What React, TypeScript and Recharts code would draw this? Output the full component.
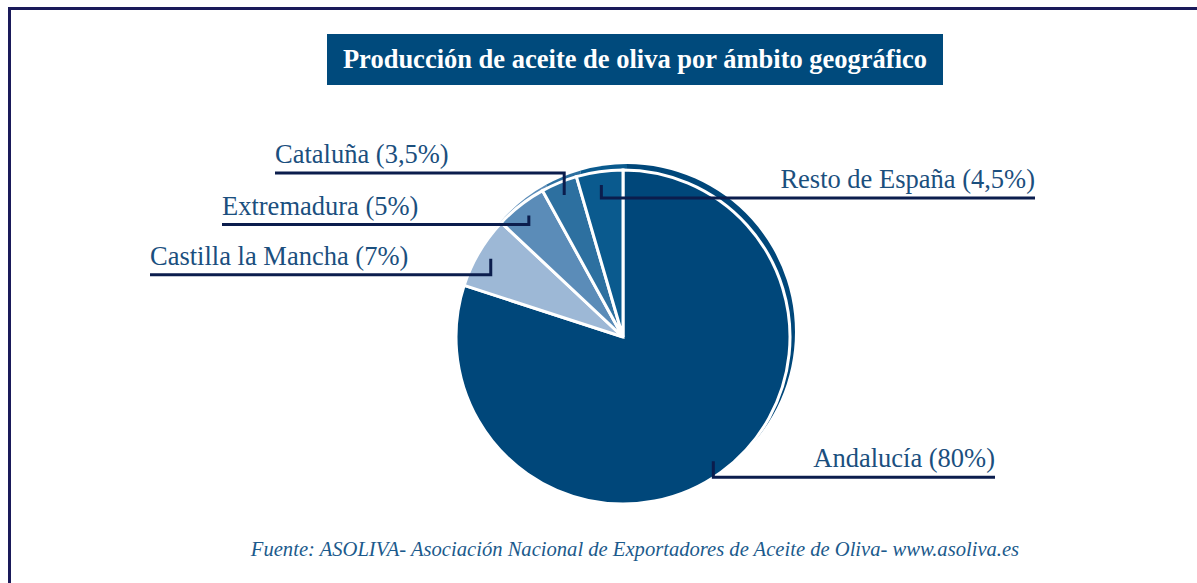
import { PieChart, Pie, Cell } from "recharts";

const regions = ["Andalucía", "Castilla la Mancha", "Extremadura", "Cataluña", "Resto de España"];
const shares = [80, 7, 5, 3.5, 4.5];
const shareLabels = ["80%", "7%", "5%", "3,5%", "4,5%"];
const colors = ["#00477a", "#9db8d6", "#5b8cb8", "#2d70a0", "#0a5a8e"];

// leader-line layout: tick length (down +, up -) and x where the horizontal line ends
const tickLen = [16, 16, 9, -22, 13];
const lineEndX = [995, 150, 222, 275, 1035];

const data = regions.map((name, i) => ({ name, value: shares[i], label: shareLabels[i] }));

const RAD = Math.PI / 180;
const serif = "'Liberation Serif', 'Times New Roman', serif";

function renderLabel(props: any) {
  const { cx, cy, midAngle, outerRadius, index } = props;
  const r = outerRadius * 0.92;
  const ax = cx + r * Math.cos(-midAngle * RAD);
  const ay = cy + r * Math.sin(-midAngle * RAD);
  const ly = ay + tickLen[index];
  const ex = lineEndX[index];
  const right = ex > ax;
  return (
    <g>
      <path d={`M${ax},${ay} L${ax},${ly} L${ex},${ly}`} fill="none" stroke="#0b1d4d" strokeWidth={3} />
      <text x={ex} y={ly - 10} textAnchor={right ? "end" : "start"} fill="#1b4f7e"
        style={{ fontFamily: serif, fontSize: 26.5 }}>
        {`${data[index].name} (${data[index].label})`}
      </text>
    </g>
  );
}

export default function App() {
  return (
    <div style={{ position: "absolute", left: 0, top: 0, width: 1197, height: 583, background: "#fff", overflow: "hidden" }}>
      <div style={{ position: "absolute", left: 8, top: 7, width: 1189, height: 600, borderTop: "3px solid #1a1a5a", borderLeft: "3px solid #1a1a5a" }} />
      <div style={{
        position: "absolute", left: 327, top: 34, width: 616, height: 51, background: "#004a7c",
        color: "#fff", fontFamily: serif, fontWeight: "bold", fontSize: 26.5,
        display: "flex", alignItems: "center", justifyContent: "center",
      }}>
        Producción de aceite de oliva por ámbito geográfico
      </div>
      <PieChart width={1197} height={583} margin={{ top: 0, right: 0, bottom: 0, left: 0 }}
        style={{ position: "absolute", left: 0, top: 0 }}>
        <Pie data={data} dataKey="value" cx={627} cy={332} outerRadius={168} startAngle={90} endAngle={-270}
          stroke="none" isAnimationActive={false}>
          {data.map((d, i) => <Cell key={d.name} fill={colors[i]} />)}
        </Pie>
        <Pie data={data} dataKey="value" cx={623} cy={337} outerRadius={167} startAngle={90} endAngle={-270}
          stroke="#fff" strokeWidth={3} label={renderLabel} labelLine={false} isAnimationActive={false}>
          {data.map((d, i) => <Cell key={d.name} fill={colors[i]} />)}
        </Pie>
      </PieChart>
      <div style={{
        position: "absolute", left: 0, width: 1270, top: 538, textAlign: "center",
        fontFamily: serif, fontStyle: "italic", fontSize: 20.6, color: "#1b5a8c",
      }}>
        Fuente: ASOLIVA- Asociación Nacional de Exportadores de Aceite de Oliva- www.asoliva.es
      </div>
    </div>
  );
}
